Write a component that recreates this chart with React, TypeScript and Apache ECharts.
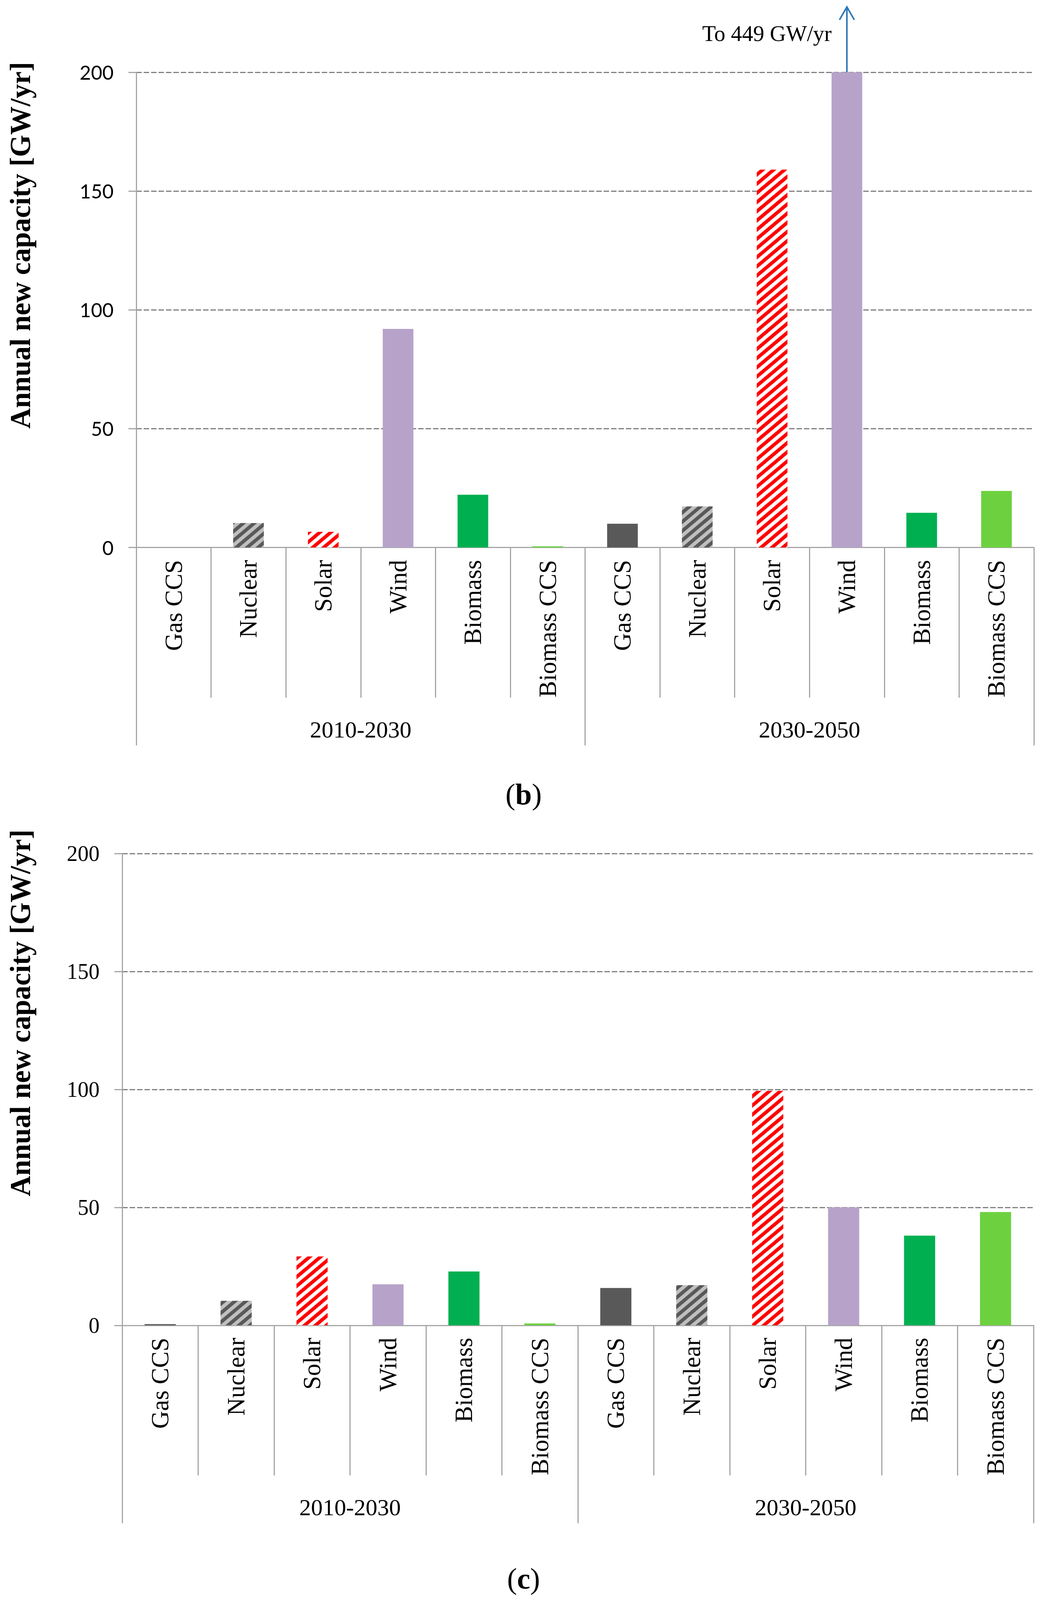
import React, { useEffect, useRef } from 'react';
import * as echarts from 'echarts';

const technologies = ['Gas CCS', 'Nuclear', 'Solar', 'Wind', 'Biomass', 'Biomass CCS'];
const periods = ['2010-2030', '2030-2050'];
const categories = [...technologies, ...technologies];
// panel (b): Wind 2030-2050 goes to 449 GW/yr (clipped at 200)
const valuesB = [0, 10.3, 6.6, 92, 22.2, 0.5, 10, 17.3, 159, 449, 14.6, 23.8];
// panel (c)
const valuesC = [0.5, 10.4, 29.2, 17.4, 22.8, 0.8, 15.8, 17, 99.4, 50, 38, 48];
const yTicks = [0, 50, 100, 150, 200];
const panelLabels = ['b', 'c'];
const yTitle = 'Annual new capacity [GW/yr]';
const annotationText = 'To 449 GW/yr';
const annotationIndex = 9;
const arrowFrom = 193;
const arrowTo = 227.5;
const annotationTextValue = 216.3;

const REF_H = 4252;

function getKy() {
  if (typeof window === 'undefined') return 1;
  const h = window.innerHeight;
  if (!h || h <= 0) return 1;
  return Math.min(1, h / REF_H);
}

export default function App() {
  const ref = useRef<HTMLDivElement>(null);
  const ky = getKy();
  useEffect(() => {
    document.body.style.margin = '0';
    const chart = echarts.init(ref.current!, null, { renderer: 'svg' });
    const serif = "'Liberation Serif', 'Times New Roman', serif";
    const gray = '#a6a6a6';
    const Y = (v: number) => v * ky;
    const stripe = (color: string) => ({
      symbol: 'rect', symbolSize: 1, dashArrayX: [1, 0], dashArrayY: [9, 9],
      rotation: -Math.PI / 4.5, color,
    });
    const techStyles: any[] = [
      { color: '#595959' },
      { color: '#bfbfbf', decal: stripe('#595959') },
      { color: '#ffffff', decal: stripe('#ff0000') },
      { color: '#b7a3c9' },
      { color: '#00b050' },
      { color: '#6dd13f' },
    ];
    const grids = [
      { left: 349, top: Y(192), width: 2299, height: Y(1263) },
      { left: 313, top: Y(2268), width: 2334, height: Y(1254) },
    ];
    const yLabelFonts = [
      { fontFamily: 'Lato', fontSize: 50 },
      { fontFamily: serif, fontSize: 56 },
    ];
    const xAxis: any[] = [];
    const yAxis: any[] = [];
    const series: any[] = [];
    [valuesB, valuesC].forEach((vals, g) => {
      xAxis.push({
        type: 'category', gridIndex: g, data: categories, position: 'bottom', offset: 0,
        axisLine: { show: true, lineStyle: { color: gray, width: 3 } },
        axisTick: { show: true, interval: 0, length: Y(399), lineStyle: { color: gray, width: 3 } },
        axisLabel: { interval: 0, rotate: 90, margin: Y(33), fontFamily: serif, fontSize: 63, color: '#000' },
        splitLine: { show: false },
      });
      xAxis.push({
        type: 'category', gridIndex: g, data: periods, position: 'bottom', offset: 0,
        axisLine: { show: false },
        axisTick: { show: true, interval: 0, length: Y(526), lineStyle: { color: gray, width: 3 } },
        axisLabel: { interval: 0, margin: Y(484) - 30, fontFamily: serif, fontSize: 60, lineHeight: 60, color: '#000' },
        splitLine: { show: false },
      });
      yAxis.push({
        type: 'value', gridIndex: g,
        min: yTicks[0], max: yTicks[yTicks.length - 1], interval: yTicks[1] - yTicks[0],
        axisLine: { show: true, lineStyle: { color: gray, width: 3 } },
        axisTick: { show: true, length: 20, lineStyle: { color: gray, width: 3 } },
        axisLabel: { margin: 58, color: '#000', ...yLabelFonts[g] },
        splitLine: { show: true, showMinLine: false, lineStyle: { color: '#808080', width: 3, type: [14, 5] } },
      });
      series.push({
        type: 'bar', xAxisIndex: g * 2, yAxisIndex: g, barWidth: '41%', clip: true,
        data: vals.map((v, i) => ({ value: v, itemStyle: techStyles[i % technologies.length] })),
      });
    });

    chart.setOption({
      animation: false,
      backgroundColor: '#ffffff',
      grid: grids,
      xAxis, yAxis, series,
    });

    const p0 = chart.convertToPixel({ gridIndex: 0 } as any, [annotationIndex, arrowFrom]) as number[];
    const p1 = chart.convertToPixel({ gridIndex: 0 } as any, [annotationIndex, arrowTo]) as number[];
    const pt = chart.convertToPixel({ gridIndex: 0 } as any, [annotationIndex, annotationTextValue]) as number[];
    const arrowColor = '#2e78b7';
    const titleCenters = [[52, Y(652)], [52, Y(2692)]];
    const panelCenters = [[1341, Y(2110)], [1341, Y(4195)]];

    const graphic: any[] = [];
    titleCenters.forEach(([x, y]) => {
      graphic.push({
        type: 'text', x, y, rotation: Math.PI / 2,
        style: { text: yTitle, font: `bold 73px ${serif}`, fill: '#000', align: 'center', verticalAlign: 'middle' },
      });
    });
    panelCenters.forEach(([x, y], i) => {
      graphic.push({
        type: 'text', x, y,
        style: {
          text: `{p|(}{b|${panelLabels[i]}}{p|)}`, align: 'center', verticalAlign: 'middle',
          rich: {
            p: { fontFamily: serif, fontSize: 76, fill: '#000' },
            b: { fontFamily: serif, fontSize: 76, fontWeight: 'bold', fill: '#000' },
          },
        },
      });
    });
    graphic.push({
      type: 'line', shape: { x1: p0[0], y1: p0[1], x2: p1[0], y2: p1[1] },
      style: { stroke: arrowColor, lineWidth: 4 },
    });
    graphic.push({
      type: 'polyline', shape: { points: [[p1[0] - 19, p1[1] + 33], [p1[0], p1[1]], [p1[0] + 19, p1[1] + 33]] },
      style: { stroke: arrowColor, lineWidth: 4, fill: 'none' },
    });
    graphic.push({
      type: 'text', x: pt[0] - 39, y: pt[1],
      style: { text: annotationText, font: `57px ${serif}`, fill: '#000', align: 'right', verticalAlign: 'middle' },
    });
    chart.setOption({ graphic });

    return () => chart.dispose();
  }, []);
  return <div ref={ref} style={{ width: 2679, height: Math.round(REF_H * ky) }} />;
}
